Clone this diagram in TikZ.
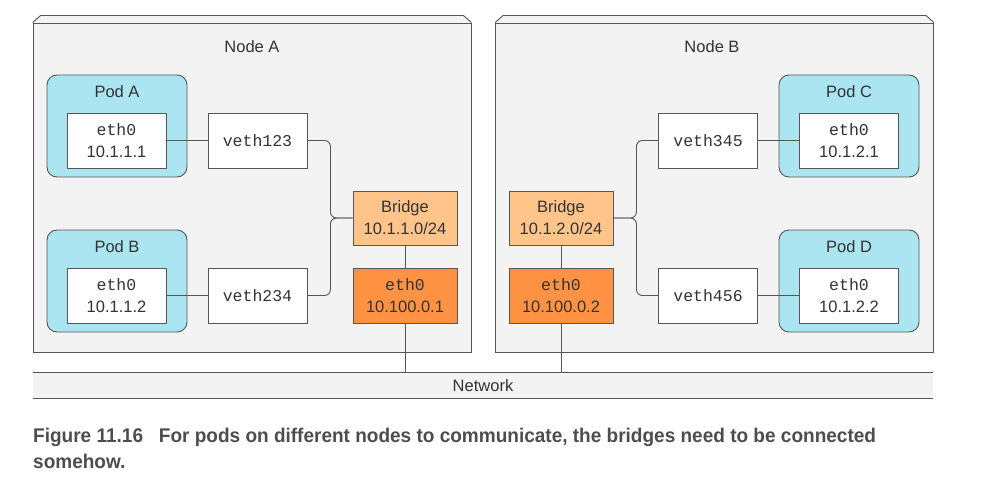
\documentclass[tikz,border=0pt]{standalone}
\usepackage{fontspec}
\setmainfont{Liberation Sans}
\setmonofont{Liberation Mono}
\newfontfamily\captionfont[FakeStretch=0.96]{Liberation Sans}
\usepackage{xcolor}
\usetikzlibrary{positioning,calc}
\definecolor{nodegray}{HTML}{F3F3F3}
\definecolor{linegray}{HTML}{555555}
\definecolor{podcyan}{HTML}{AAE5F1}
\definecolor{bridgeorange}{HTML}{FFC489}
\definecolor{ethorange}{HTML}{FF9343}
\definecolor{textdark}{HTML}{333333}
\definecolor{capgray}{HTML}{4D4D4D}

\begin{document}
\begin{tikzpicture}[
    x=1pt, y=-1pt,
    every node/.style={text=textdark},
    machine/.style={rectangle, draw=linegray, fill=nodegray, line width=0.9pt,
                    minimum width=438, minimum height=329},
    pod/.style={rectangle, draw=linegray, fill=podcyan, rounded corners=10pt,
                line width=0.9pt, minimum width=140, minimum height=102},
    iface/.style={rectangle, draw=linegray, fill=white, line width=0.9pt,
                  minimum width=99, minimum height=55, align=center,
                  font=\fontsize{16.5}{22}\selectfont},
    veth/.style={iface, font=\fontsize{16.5}{22}\ttfamily},
    bridge/.style={iface, minimum width=104, minimum height=54, fill=bridgeorange},
    hosteth/.style={iface, minimum width=104, fill=ethorange},
    title/.style={font=\fontsize{16.5}{20}\selectfont},
    wire/.style={draw=linegray, line width=0.9pt, rounded corners=6pt}
]
\useasboundingbox (0,0) rectangle (999,492);

% the two machines
\node[machine] (nodeA) at (252,187.5) {};
\node[machine] (nodeB) at (714.5,187.5) {};
\foreach \m in {nodeA,nodeB}
  \draw[draw=linegray, fill=nodegray, line width=0.9pt]
    (\m.north west) -- ++(8,-7) -- ($(\m.north east)+(-8,-7)$) -- (\m.north east);
\node[title] (titleA) at (252,47) {Node A};
\node[title] (titleB) at (712,47) {Node B};

% pods
\node[pod] (podA) at (117,126) {};
\node[pod] (podB) at (117,281) {};
\node[pod] (podC) at (849,126) {};
\node[pod] (podD) at (849,281) {};
\node[title] at (117,92)  {Pod A};
\node[title] at (117,247) {Pod B};
\node[title] at (849,92)  {Pod C};
\node[title] at (849,247) {Pod D};

\node[iface] (ethA) at (116.5,140.5) {\texttt{eth0}\\10.1.1.1};
\node[iface] (ethB) at (116.5,295.5) {\texttt{eth0}\\10.1.1.2};
\node[iface] (ethC) at (849,140.5)   {\texttt{eth0}\\10.1.2.1};
\node[iface] (ethD) at (849,295.5)   {\texttt{eth0}\\10.1.2.2};

% veth pairs
\node[veth] (veth123) at (257.5,140.5) {veth123};
\node[veth] (veth234) at (257.5,295.5) {veth234};
\node[veth] (veth345) at (708,140.5)   {veth345};
\node[veth] (veth456) at (708,295.5)   {veth456};

% bridges and host interfaces
\node[bridge]  (brA)  at (405,218)   {Bridge\\10.1.1.0/24};
\node[bridge]  (brB)  at (561,218)   {Bridge\\10.1.2.0/24};
\node[hosteth] (hostA) at (405,295.5) {\texttt{eth0}\\10.100.0.1};
\node[hosteth] (hostB) at (561,295.5) {\texttt{eth0}\\10.100.0.2};

% network
\node[title, minimum width=900, minimum height=25, fill=nodegray] (net) at (483,385.5) {Network};
\draw[linegray, line width=0.9pt] (net.north west) -- (net.north east);
\draw[linegray, line width=0.9pt] (net.south west) -- (net.south east);

% wiring
\draw[wire] (ethA) -- (veth123);
\draw[wire] (ethB) -- (veth234);
\draw[wire] (ethC) -- (veth345);
\draw[wire] (ethD) -- (veth456);
\draw[wire] (veth123.east) -- ++(23,0) |- (brA.west);
\draw[wire] (veth234.east) -- ++(23,0) |- (brA.west);
\draw[wire] (brB.east) -- ++(23,0) |- (veth345.west);
\draw[wire] (brB.east) -- ++(23,0) |- (veth456.west);
\draw[wire] (brA) -- (hostA);
\draw[wire] (brB) -- (hostB);
\draw[wire] (hostA.south) -- (hostA.south |- net.north);
\draw[wire] (hostB.south) -- (hostB.south |- net.north);

% caption
\node[anchor=north west, align=left, text=capgray, inner sep=2pt,
      font=\captionfont\bfseries\fontsize{19.8}{26}\selectfont] (caption) at (31,426)
  {Figure 11.16\hspace{0.8em}For pods on different nodes to communicate, the bridges need to be connected\\somehow.};
\end{tikzpicture}
\end{document}
